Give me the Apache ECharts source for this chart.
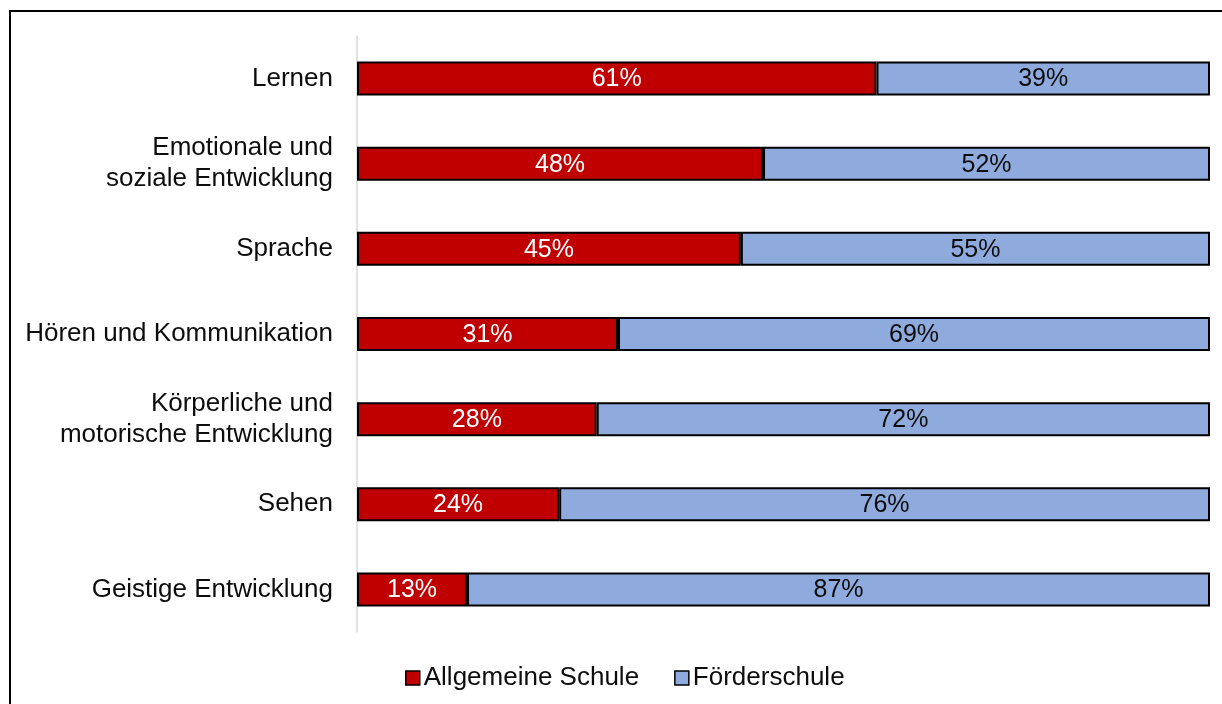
<!DOCTYPE html>
<html>
<head>
<meta charset="utf-8">
<script src="https://cdn.jsdelivr.net/npm/echarts@6/dist/echarts.min.js"></script>
<style>
html,body{margin:0;padding:0;background:#fff;}
#chart{width:1222px;height:704px;}
</style>
</head>
<body>
<div id="chart"></div>
<script>
const categories = [
  "Lernen",
  "Emotionale und\nsoziale Entwicklung",
  "Sprache",
  "Hören und Kommunikation",
  "Körperliche und\nmotorische Entwicklung",
  "Sehen",
  "Geistige Entwicklung"
];
const seriesNames = ["Allgemeine Schule", "Förderschule"];
const allgemeineSchule = [60.9, 47.6, 45.0, 30.6, 28.1, 23.7, 12.9];
const foerderschule = [39.1, 52.4, 55.0, 69.4, 71.9, 76.3, 87.1];

const FONT = '"Liberation Sans", Arial, sans-serif';
const chart = echarts.init(document.getElementById('chart'), null, {renderer: 'canvas'});

function barSeries(name, data, color, labelColor) {
  return {
    name: name,
    type: 'bar',
    stack: 'total',
    data: data,
    barWidth: 34,
    itemStyle: {color: color, borderColor: '#000', borderWidth: 2},
    label: {
      show: true,
      position: 'inside',
      offset: [0, 1],
      color: labelColor,
      fontFamily: FONT,
      fontSize: 25,
      formatter: p => Math.round(p.value) + '%'
    },
    emphasis: {disabled: true}
  };
}

chart.setOption({
  animation: false,
  backgroundColor: '#fff',
  textStyle: {fontFamily: FONT},
  grid: {left: 357, right: 12, top: 36, bottom: 72, containLabel: false},
  xAxis: {
    type: 'value', min: 0, max: 100,
    show: false
  },
  yAxis: {
    type: 'category',
    data: categories,
    inverse: true,
    axisLine: {show: true, lineStyle: {color: '#d9d9d9', width: 1.5}},
    axisTick: {show: false},
    axisLabel: {
      color: '#0d0d0d', fontFamily: FONT, fontSize: 26, margin: 24,
      lineHeight: 31, align: 'right'
    }
  },
  legend: {
    left: 400, top: 660,
    itemWidth: 14, itemHeight: 14, itemGap: 35,
    icon: 'rect',
    textStyle: {color: '#0d0d0d', fontFamily: FONT, fontSize: 26, padding: [0,0,0,-1]},
    itemStyle: {borderColor: '#000', borderWidth: 1.5},
    data: seriesNames
  },
  graphic: [{
    type: 'rect',
    shape: {x: 10, y: 11, width: 1300, height: 800},
    style: {fill: 'none', stroke: '#000', lineWidth: 2},
    silent: true
  }],
  series: [
    barSeries(seriesNames[0], allgemeineSchule, '#c00000', '#ffffff'),
    barSeries(seriesNames[1], foerderschule, '#8faadc', '#0d0d0d')
  ]
});
</script>
</body>
</html>
